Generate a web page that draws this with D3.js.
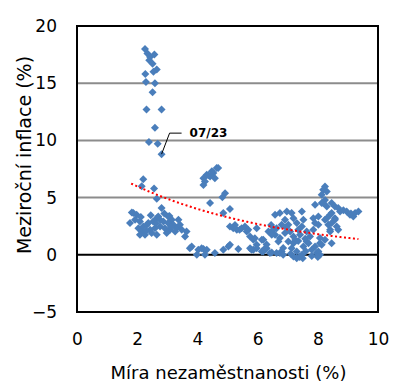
<!DOCTYPE html>
<html><head><meta charset="utf-8">
<script src="https://cdn.jsdelivr.net/npm/d3@7"></script>
<style>
html,body{margin:0;padding:0;background:#fff;}
svg{display:block;}
text{font-family:"DejaVu Sans", sans-serif;fill:#000;}
</style></head>
<body><svg id="c" width="393" height="383"></svg>
<script>
// Unemployment rate (%) and y/y inflation (%) pairs
const unemployment = [
 2.26,2.34,2.43,2.57,2.40,2.51,2.65,2.54,2.27,2.29,2.59,2.51,2.31,2.81,2.59,2.39,2.68,2.81,
 2.20,2.15,2.56,2.65,2.81,3.07,
 1.76,1.87,1.98,1.93,2.09,2.04,2.15,2.20,2.32,2.09,2.26,2.43,2.37,2.53,2.65,2.70,2.76,2.87,2.59,2.76,2.92,
 3.03,3.15,3.03,3.20,3.37,3.31,3.48,3.64,3.59,3.42,3.26,3.09,2.98,2.65,2.48,1.82,2.12,2.45,2.30,2.62,2.90,3.12,
 3.81,3.75,4.03,4.20,3.98,4.25,4.58,4.14,4.31,4.86,5.03,5.08,5.36,5.75,5.86,
 4.31,4.20,4.25,4.20,4.42,4.53,4.64,4.69,4.58,4.36,4.48,
 4.42,4.92,4.83,4.86,5.08,5.08,5.19,5.31,5.47,5.58,5.69,5.64,5.75,5.97,5.86,5.97,5.25,5.40,
 5.91,6.14,5.97,5.80,6.14,6.30,6.47,6.74,
 6.58,6.74,6.97,7.13,7.47,7.19,6.91,7.02,6.80,6.63,6.52,6.36,6.19,6.25,6.58,6.74,6.91,7.08,7.19,7.02,7.19,7.13,7.30,7.47,7.19,
 7.52,7.63,7.74,7.63,7.85,8.02,7.91,7.85,8.02,8.24,8.35,8.41,7.91,8.13,8.30,8.46,8.57,7.80,7.96,8.13,8.07,8.24,7.47,7.30,7.52,7.35,7.41,
 6.19,6.41,6.63,6.80,6.85,6.47,6.69,6.30,6.85,7.25,7.58,7.69,6.45,6.95,7.35,
 8.24,8.18,8.30,8.13,8.24,8.18,8.46,8.57,8.68,8.74,8.96,9.07,9.24,9.35,9.18,8.41,8.57,8.30,8.46,8.63,8.68,8.41,8.46,8.07,7.91,8.02,8.07,
 7.30,7.50,7.40,7.80,8.00,7.10,7.60,8.85,9.10
];
const inflation = [
 18.0,17.6,17.3,17.5,17.0,16.7,16.2,16.0,15.8,15.1,15.0,14.2,12.7,12.7,11.1,9.85,9.7,8.8,
 6.6,6.0,5.8,4.9,4.1,3.4,
 2.77,3.65,3.5,3.06,2.9,2.33,2.04,2.47,2.62,1.75,1.75,2.19,2.77,2.9,3.2,3.35,3.06,2.9,2.33,2.47,2.33,
 3.35,3.06,2.77,2.62,3.06,2.33,2.19,2.04,1.6,2.62,2.04,2.19,1.9,1.75,1.9,3.7,3.3,3.45,2.1,2.75,3.6,2.45,
 0.73,0.58,0.44,0.5,0.0,0.0,0.15,0.58,0.44,0.44,0.73,0.87,0.5,0.58,0.44,
 7.0,6.7,6.4,6.1,6.85,7.14,7.58,7.58,6.7,6.95,7.3,
 4.52,5.39,5.04,3.65,4.0,2.47,2.33,2.19,2.33,2.47,2.19,2.04,1.6,2.33,1.31,0.87,2.6,2.2,
 1.45,1.31,0.58,0.44,0.29,0.58,0.2,0.15,
 3.5,3.65,3.79,3.65,3.79,3.2,3.06,2.62,2.62,2.33,2.19,2.04,1.31,0.58,1.75,1.46,1.9,2.04,1.6,1.16,1.02,0.58,0.29,0.0,-0.15,
 0.73,1.16,1.6,2.04,2.19,2.62,2.77,3.2,3.35,3.06,2.62,2.19,4.37,4.52,4.22,3.65,3.2,0.44,0.15,0.87,1.46,1.31,2.47,2.77,3.06,2.19,1.75,
 0.29,0.15,0.15,0.29,0.0,1.75,1.16,0.9,0.6,1.3,1.4,1.0,2.6,2.4,1.2,
 5.97,5.68,5.53,5.24,4.8,4.52,4.52,4.22,4.08,3.79,3.79,3.5,3.65,3.79,3.35,3.5,3.06,3.2,2.77,2.47,2.19,2.04,1.02,1.02,0.73,0.29,0.0,
 -0.3,-0.3,-0.2,-0.1,-0.2,0.1,0.3,3.9,3.6
];
const xTicks = [0,2,4,6,8,10];
const yTicks = [-5,0,5,10,15,20];
const gridValues = [5,10,15];
// exponential trend line y = a*exp(b*x), as drawn by the spreadsheet
const trendA = 8.92, trendB = -0.1997;
const trendRange = [1.8, 9.38];
const annotation = {label:"07/23", x:2.81, y:8.8};

const points = unemployment.map((u,i)=>({x:u, y:inflation[i]}));

const svg = d3.select("#c");
const L = 77, R = 378, T = 26, B = 312;
const x = d3.scaleLinear().domain([0,10]).range([L,R]);
const y = d3.scaleLinear().domain([-5,20]).range([B,T]);

// gridlines
svg.append("g").selectAll("line").data(gridValues).join("line")
  .attr("x1",L).attr("x2",R).attr("y1",d=>y(d)).attr("y2",d=>y(d))
  .attr("stroke","#8c8c8c").attr("stroke-width",2);
// zero line
svg.append("line").attr("x1",L).attr("x2",R).attr("y1",y(0)).attr("y2",y(0))
  .attr("stroke","#000").attr("stroke-width",2);

// axes
const xAxis = svg.append("g").attr("transform",`translate(0,${B})`)
  .call(d3.axisBottom(x).tickValues(xTicks).tickSize(0).tickPadding(21));
const yAxis = svg.append("g").attr("transform",`translate(${L},0)`)
  .call(d3.axisLeft(y).tickValues(yTicks).tickSize(0).tickPadding(20));
[xAxis,yAxis].forEach(g=>{
  g.select(".domain").remove();
  g.selectAll("text").attr("font-family","'DejaVu Sans', sans-serif").attr("font-size",17).attr("fill","#000");
});
yAxis.selectAll("text").attr("dy","0.32em");

// frame
svg.append("rect").attr("x",L).attr("y",T).attr("width",R-L).attr("height",B-T)
  .attr("fill","none").attr("stroke","#000").attr("stroke-width",2);

// points
const diamond = "M0,-4L4,0L0,4L-4,0Z";
svg.append("g").selectAll("path").data(points).join("path")
  .attr("d",diamond)
  .attr("transform",d=>`translate(${x(d.x)},${y(d.y)})`)
  .attr("fill","#4a7ebb");

// trend line
const trendX = d3.range(trendRange[0], trendRange[1]+0.001, 0.05);
const line = d3.line().x(d=>x(d)).y(d=>y(trendA*Math.exp(trendB*d)));
svg.append("path").datum(trendX).attr("d",line)
  .attr("fill","none").attr("stroke","#ff0000").attr("stroke-width",2)
  .attr("stroke-dasharray","2,2.5");

// annotation
const ax = x(annotation.x), ay = y(annotation.y);
svg.append("path")
  .attr("d",`M${ax},${ay}L${ax+8},${ay-21}L${ax+20},${ay-21}`)
  .attr("fill","none").attr("stroke","#000").attr("stroke-width",1);
svg.append("text").attr("x",ax+28).attr("y",ay-21).attr("dy","0.35em")
  .attr("font-size",12).attr("font-weight","bold").text(annotation.label);

// axis titles
svg.append("text").attr("x",(L+R)/2+1).attr("y",379).attr("text-anchor","middle")
  .attr("font-size",18).text("Míra nezaměstnanosti (%)");
svg.append("text").attr("transform",`translate(31,155) rotate(-90)`).attr("text-anchor","middle")
  .attr("font-size",19).text("Meziroční inflace (%)");
</script></body></html>
